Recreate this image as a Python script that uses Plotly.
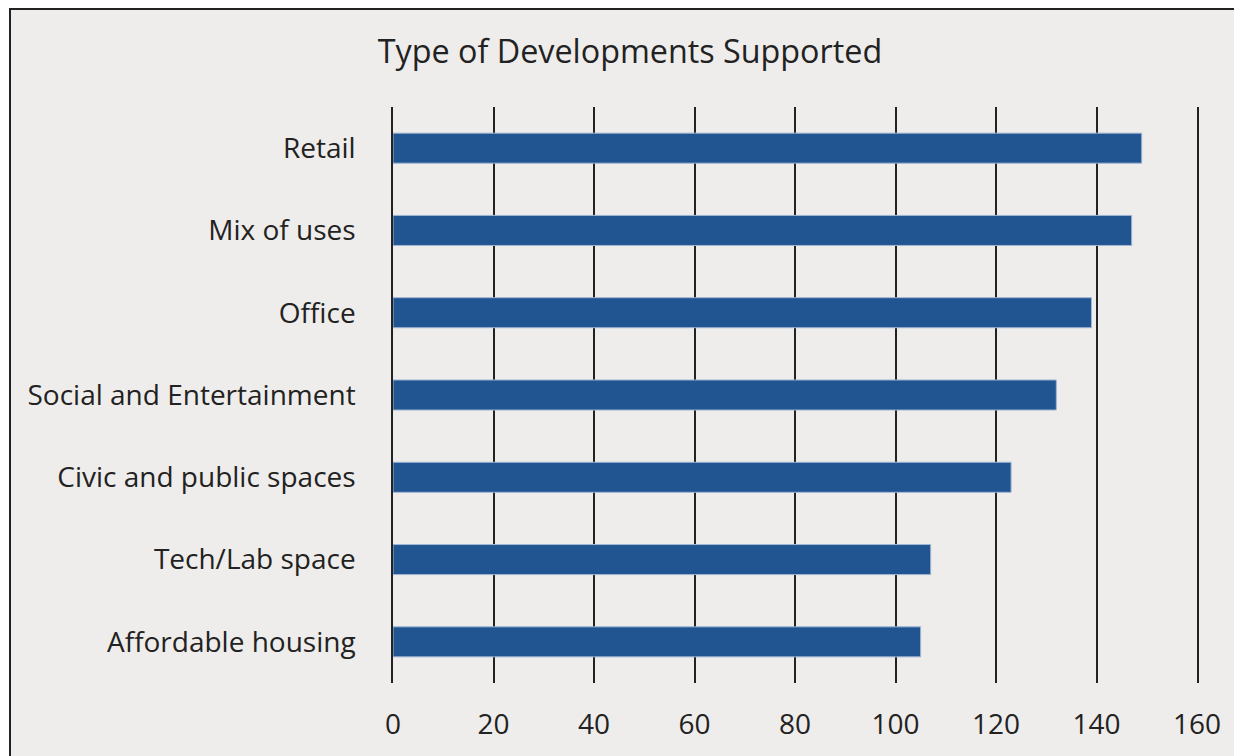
import plotly.graph_objects as go

# Development types (bottom to top) and counts supported
categories = [
    "Affordable housing",
    "Tech/Lab space",
    "Civic and public spaces",
    "Social and Entertainment",
    "Office",
    "Mix of uses",
    "Retail",
]
counts = [105, 107, 123, 132, 139, 147, 149]
x_ticks = [0, 20, 40, 60, 80, 100, 120, 140, 160]

FONT = "'Open Sans', Lato, sans-serif"
INK = "#222222"
BG = "#eeedeb"

fig = go.Figure(
    go.Bar(
        x=counts,
        y=categories,
        orientation="h",
        width=0.365,
        marker=dict(color="#215592", line=dict(color="#9fb6d3", width=1)),
        hoverinfo="x+y",
    )
)

W, H = 1234, 756
L, R, T, B = 393, 37, 107, 73
pw, ph = W - L - R, H - T - B

def px_x(v):
    return (v - L) / pw

def px_y(v):
    return (H - B - v) / ph

fig.update_layout(
    width=W,
    height=H,
    margin=dict(l=L, r=R, t=T, b=B),
    paper_bgcolor="white",
    plot_bgcolor="rgba(0,0,0,0)",
    font=dict(family=FONT, color=INK, size=28),
    showlegend=False,
    title=dict(
        text="Type of Developments Supported",
        x=630 / W,
        xanchor="center",
        y=1 - 52 / H,
        yanchor="middle",
        font=dict(size=32.3, family=FONT, color=INK),
    ),
    shapes=[
        dict(
            type="rect",
            xref="paper",
            yref="paper",
            x0=px_x(10),
            y0=px_y(H + 20),
            x1=px_x(W + 20),
            y1=px_y(9),
            fillcolor=BG,
            line=dict(color=INK, width=2),
            layer="below",
        )
    ],
    xaxis=dict(
        range=[0, 160],
        tickvals=x_ticks,
        ticktext=[str(v) for v in x_ticks],
        showgrid=True,
        gridcolor=INK,
        gridwidth=1.5,
        zeroline=False,
        showline=False,
        ticks="",
        ticklabelstandoff=22,
        tickfont=dict(size=28, family=FONT, color=INK),
        fixedrange=True,
    ),
    yaxis=dict(
        range=[-0.5, 6.5],
        showgrid=False,
        zeroline=False,
        # left and right edge lines stand in for the 0 and 160 gridlines
        showline=True,
        mirror=True,
        linecolor=INK,
        linewidth=1.5,
        ticks="",
        ticklabelstandoff=30,
        tickfont=dict(size=28, family=FONT, color=INK),
        fixedrange=True,
    ),
)

fig.write_html("out.html")
